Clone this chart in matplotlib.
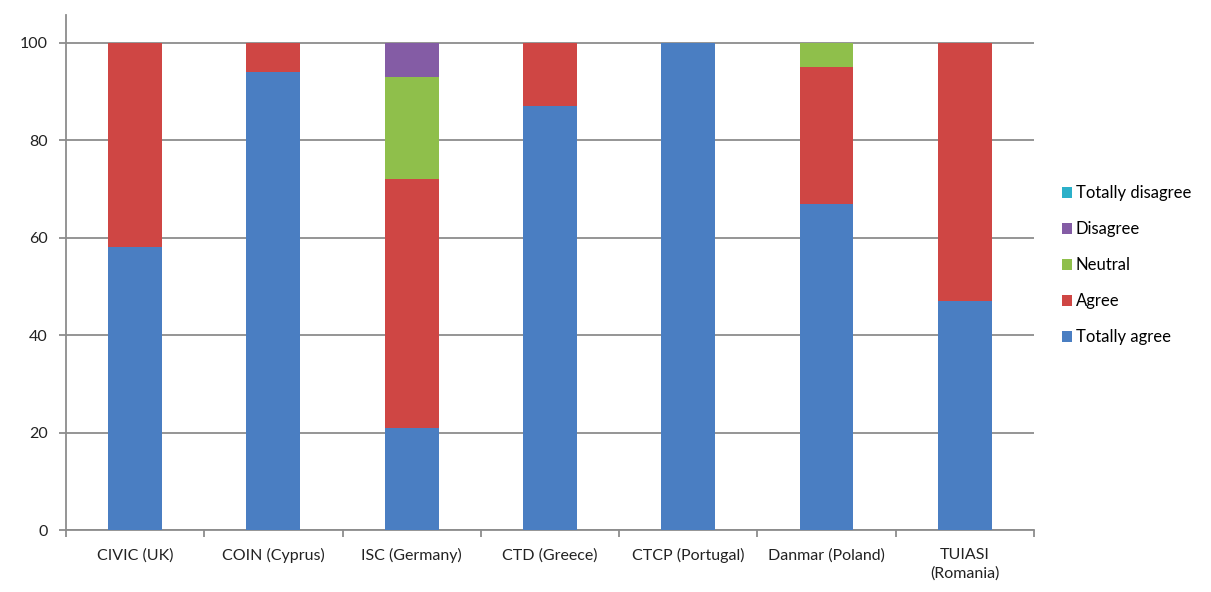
import numpy as np
import matplotlib.pyplot as plt

plt.rcParams['font.family'] = ['Lato', 'DejaVu Sans']

# Data (percent)
partners = ['CIVIC (UK)', 'COIN (Cyprus)', 'ISC (Germany)', 'CTD (Greece)',
            'CTCP (Portugal)', 'Danmar (Poland)', 'TUIASI\n(Romania)']
totally_agree = [58, 94, 21, 87, 100, 67, 47]
agree = [42, 6, 51, 13, 0, 28, 53]
neutral = [0, 0, 21, 0, 0, 5, 0]
disagree = [0, 0, 7, 0, 0, 0, 0]
totally_disagree = [0, 0, 0, 0, 0, 0, 0]

series = [
    ('Totally agree', totally_agree, '#4a7ec2'),
    ('Agree', agree, '#cf4644'),
    ('Neutral', neutral, '#8fbf4b'),
    ('Disagree', disagree, '#845ca5'),
    ('Totally disagree', totally_disagree, '#2bb0c9'),
]

fig = plt.figure(figsize=(12.11, 5.92), dpi=100)
ax = fig.add_axes([0.0545, 0.1047, 0.7993, 0.870])

x = np.arange(len(partners))
bottom = np.zeros(len(partners))
handles = []
for name, vals, color in series:
    vals = np.array(vals, dtype=float)
    b = ax.bar(x, vals, width=0.39, bottom=bottom, color=color, label=name,
               zorder=3)
    handles.append(b)
    bottom += vals

ax.set_xlim(-0.5, len(partners) - 0.5)
ax.set_ylim(0, 105.7)
ax.set_yticks(np.arange(0, 101, 20))
ax.yaxis.grid(True, color='#8c8c8c', linewidth=1.3, zorder=0)

# category boundaries as tick marks, labels centred between them
ax.set_xticks(np.arange(-0.5, len(partners), 1.0))
ax.set_xticklabels([])
ax.set_xticks(x, minor=True)
ax.set_xticklabels(partners, minor=True, fontsize=11.5, linespacing=1.35)
ax.tick_params(axis='x', which='major', length=5, color='#8c8c8c', width=1.3)
ax.tick_params(axis='x', which='minor', length=0, pad=13,
               labelcolor='#222222')
ax.tick_params(axis='y', length=5, color='#8c8c8c', width=1.3, labelsize=11.5,
               labelcolor='#222222', pad=8)

for side in ['top', 'right']:
    ax.spines[side].set_visible(False)
for side in ['left', 'bottom']:
    ax.spines[side].set_color('#8c8c8c')
    ax.spines[side].set_linewidth(1.3)

# legend in reversed order, like Excel
ax.legend(handles[::-1], [h.get_label() for h in handles[::-1]],
          loc='center left', bbox_to_anchor=(1.013, 0.514), frameon=False,
          fontsize=12, handlelength=0.6, handleheight=0.6, handletextpad=0.25,
          labelspacing=1.2)

plt.savefig('out.png', dpi=100)
